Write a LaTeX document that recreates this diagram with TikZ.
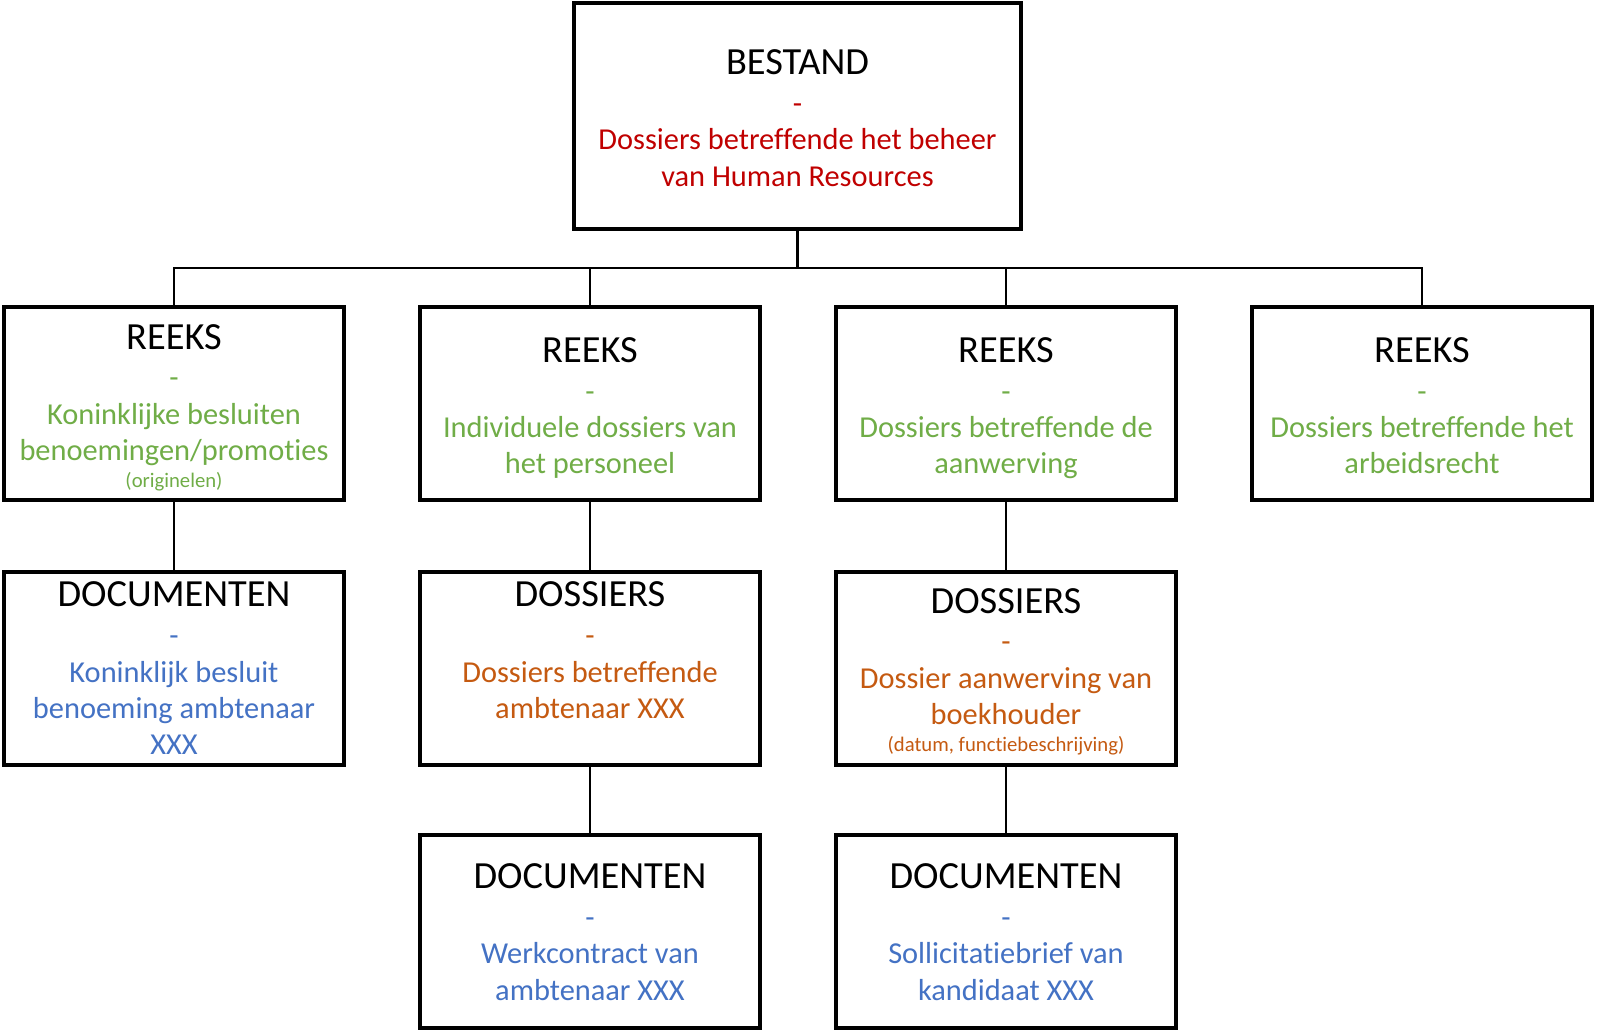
\documentclass[tikz,border=0pt]{standalone}
\usepackage{fontspec}
\setmainfont{Carlito}[Ligatures={NoCommon}]
\definecolor{hrred}{HTML}{C00000}
\definecolor{rgreen}{HTML}{70AD47}
\definecolor{dorange}{HTML}{C55A11}
\definecolor{dblue}{HTML}{4472C4}
\newcommand{\boxtitle}{\fontsize{19.2pt}{18.2pt}\selectfont\rule{0pt}{13pt}}
\newcommand{\boxsmall}{\fontsize{10.35pt}{12pt}\selectfont}
\tikzset{
  box/.style={draw, line width=2pt, rectangle, minimum width=170pt, minimum height=96.5pt, inner sep=0pt},
  topbox/.style={box, minimum width=223.5pt, minimum height=113pt},
  boxtext/.style={anchor=north, align=center, inner sep=0pt, outer sep=0pt,
    font=\fontsize{15.2pt}{18.2pt}\selectfont},
  conn/.style={line width=1.35pt}
}
\begin{document}
\begin{tikzpicture}[x=0.5pt, y=-0.5pt]
\useasboundingbox (0,0) rectangle (1600,1031);
\fill[white] (0,0) rectangle (1600,1031);
% boxes
\node[topbox] (top) at (797.5,116) {};
\node[box] (r1) at (174,403.5) {};
\node[box] (r2) at (590,403.5) {};
\node[box] (r3) at (1006,403.5) {};
\node[box] (r4) at (1422,403.5) {};
\node[box] (d1) at (174,668) {};
\node[box] (s2) at (590,668) {};
\node[box] (s3) at (1006,668) {};
\node[box] (d2) at (590,931) {};
\node[box] (d3) at (1006,931) {};
% texts
\node[boxtext, yshift=-23.75pt] (topt) at (top.north) {{\boxtitle BESTAND}\\[1.2pt]
  \textcolor{hrred}{-}\\
  \textcolor{hrred}{Dossiers betreffende het beheer}\\
  \textcolor{hrred}{van Human Resources}};
\node[boxtext, yshift=-9.05pt] (r1t) at (r1.north) {{\boxtitle REEKS}\\[1.2pt]
  \textcolor{rgreen}{-}\\
  \textcolor{rgreen}{Koninklijke besluiten}\\
  \textcolor{rgreen}{benoemingen/promoties}\\[-4.9pt]
  {\boxsmall\textcolor{rgreen}{(originelen)}}};
\node[boxtext, yshift=-15.7pt] (r2t) at (r2.north) {{\boxtitle REEKS}\\[1.2pt]
  \textcolor{rgreen}{-}\\
  \textcolor{rgreen}{Individuele dossiers van}\\
  \textcolor{rgreen}{het personeel}};
\node[boxtext, yshift=-15.7pt] (r3t) at (r3.north) {{\boxtitle REEKS}\\[1.2pt]
  \textcolor{rgreen}{-}\\
  \textcolor{rgreen}{Dossiers betreffende de}\\
  \textcolor{rgreen}{aanwerving}};
\node[boxtext, yshift=-15.7pt] (r4t) at (r4.north) {{\boxtitle REEKS}\\[1.2pt]
  \textcolor{rgreen}{-}\\
  \textcolor{rgreen}{Dossiers betreffende het}\\
  \textcolor{rgreen}{arbeidsrecht}};
\node[boxtext, yshift=-5.7pt] (d1t) at (d1.north) {{\boxtitle DOCUMENTEN}\\[1.2pt]
  \textcolor{dblue}{-}\\
  \textcolor{dblue}{Koninklijk besluit}\\
  \textcolor{dblue}{benoeming ambtenaar}\\
  \textcolor{dblue}{XXX}};
\node[boxtext, yshift=-5.7pt] (s2t) at (s2.north) {{\boxtitle DOSSIERS}\\[1.2pt]
  \textcolor{dorange}{-}\\
  \textcolor{dorange}{Dossiers betreffende}\\
  \textcolor{dorange}{ambtenaar XXX}};
\node[boxtext, yshift=-8.8pt] (s3t) at (s3.north) {{\boxtitle DOSSIERS}\\[1.2pt]
  \textcolor{dorange}{-}\\
  \textcolor{dorange}{Dossier aanwerving van}\\
  \textcolor{dorange}{boekhouder}\\[-4.9pt]
  {\boxsmall\textcolor{dorange}{(datum, functiebeschrijving)}}};
\node[boxtext, yshift=-15.1pt] (d2t) at (d2.north) {{\boxtitle DOCUMENTEN}\\[1.2pt]
  \textcolor{dblue}{-}\\
  \textcolor{dblue}{Werkcontract van}\\
  \textcolor{dblue}{ambtenaar XXX}};
\node[boxtext, yshift=-15.1pt] (d3t) at (d3.north) {{\boxtitle DOCUMENTEN}\\[1.2pt]
  \textcolor{dblue}{-}\\
  \textcolor{dblue}{Sollicitatiebrief van}\\
  \textcolor{dblue}{kandidaat XXX}};
% connectors
\coordinate (bus) at (0,268);
\draw[conn] (top.south) -- (top.south |- bus);
\draw[conn] (r1.north) -- (r1.north |- bus) -- (r4.north |- bus) -- (r4.north);
\draw[conn] (r2.north) -- (r2.north |- bus);
\draw[conn] (r3.north) -- (r3.north |- bus);
\draw[conn] (r1) -- (d1);
\draw[conn] (r2) -- (s2);
\draw[conn] (r3) -- (s3);
\draw[conn] (s2) -- (d2);
\draw[conn] (s3) -- (d3);
\end{tikzpicture}
\end{document}
